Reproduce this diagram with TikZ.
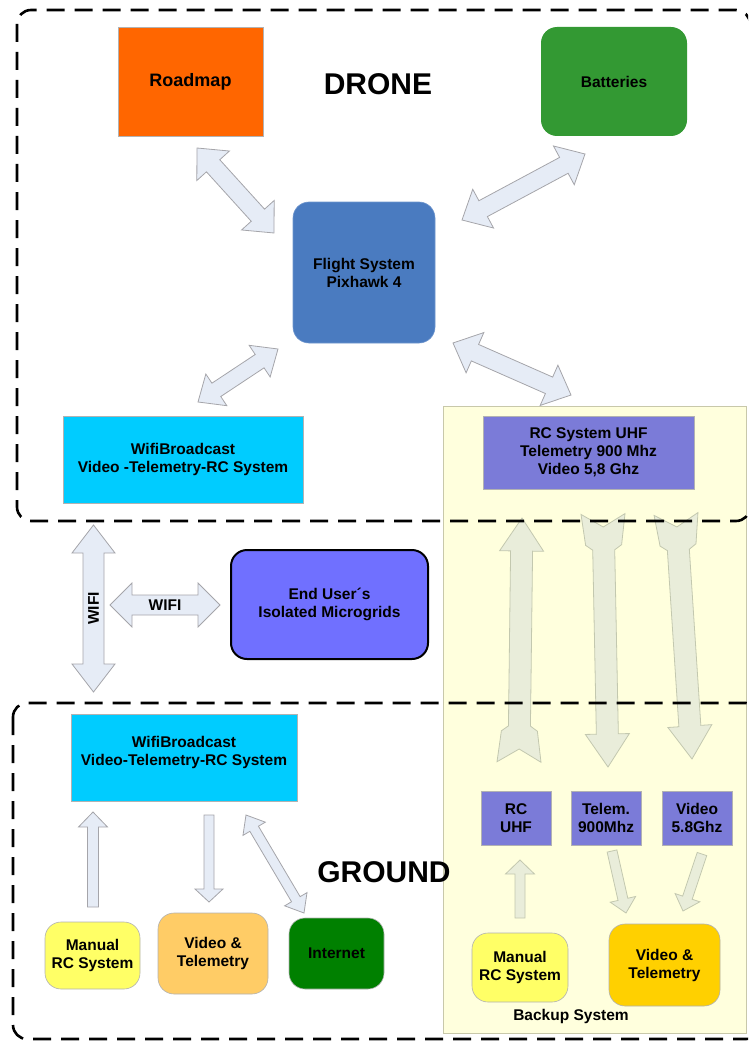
\documentclass[tikz,border=0pt]{standalone}
\usepackage{fontspec}
\setmainfont{Liberation Sans}
\usetikzlibrary{calc}
\definecolor{roadmapc}{RGB}{255,102,0}
\definecolor{battc}{RGB}{51,153,51}
\definecolor{flightc}{RGB}{74,123,192}
\definecolor{wific}{RGB}{0,204,255}
\definecolor{rcc}{RGB}{123,123,216}
\definecolor{enduserc}{RGB}{112,112,255}
\definecolor{manualc}{RGB}{255,255,102}
\definecolor{vidtelc}{RGB}{255,204,102}
\definecolor{internetc}{RGB}{0,128,0}
\definecolor{bvidtelc}{RGB}{255,208,0}
\definecolor{backbgc}{RGB}{255,255,221}
\definecolor{backbdc}{RGB}{200,200,170}
\definecolor{barrowfill}{RGB}{230,236,246}
\definecolor{barrowdraw}{RGB}{165,165,170}
\definecolor{garrowfill}{RGB}{233,237,218}
\definecolor{garrowdraw}{RGB}{195,200,175}
\tikzset{
  arrframe/.style={shift={(#1)},rotate=\n1},
  box/.style={draw=black!30, line width=0.6pt, align=center, inner sep=0pt,
    font=\bfseries\fontsize{15.5}{18}\selectfont},
  rbox/.style={box, rounded corners=16pt},
  barrow/.style={draw=barrowdraw, fill=barrowfill, line width=0.8pt},
  garrow/.style={draw=garrowdraw, fill=garrowfill, line width=0.8pt},
  zone/.style={draw=black, line width=2.6pt, dash pattern=on 18pt off 10pt, rounded corners=14pt},
  title/.style={font=\bfseries\fontsize{30}{34}\selectfont},
  lab/.style={font=\bfseries\fontsize{15.5}{18}\selectfont, inner sep=0pt},
}
% double block arrow: [style]{from}{to}{shaft half}{head half}{head length}
\newcommand\dblarr[6][barrow]{%
  \path[#1] let \p1=($(#3)-(#2)$), \n1={atan2(\y1,\x1)}, \n2={veclen(\x1,\y1)} in
    (#2) -- ([arrframe=#2]#6,#5) -- ([arrframe=#2]#6,#4) -- ([arrframe=#2]\n2-#6,#4)
    -- ([arrframe=#2]\n2-#6,#5) -- (#3) -- ([arrframe=#2]\n2-#6,-#5) -- ([arrframe=#2]\n2-#6,-#4)
    -- ([arrframe=#2]#6,-#4) -- ([arrframe=#2]#6,-#5) -- cycle;}
% single block arrow
\newcommand\sglarr[6][barrow]{%
  \path[#1] let \p1=($(#3)-(#2)$), \n1={atan2(\y1,\x1)}, \n2={veclen(\x1,\y1)} in
    ([arrframe=#2]0,#4) -- ([arrframe=#2]\n2-#6,#4) -- ([arrframe=#2]\n2-#6,#5) -- (#3)
    -- ([arrframe=#2]\n2-#6,-#5) -- ([arrframe=#2]\n2-#6,-#4) -- ([arrframe=#2]0,-#4) -- cycle;}
% swallow-tail block arrow
\newcommand\tailarr[3][garrow]{%
  \path[#1] let \p1=($(#3)-(#2)$), \n1={atan2(\y1,\x1)}, \n2={veclen(\x1,\y1)} in
    ([arrframe=#2]0,22) -- ([arrframe=#2]31,18) -- ([arrframe=#2]36,11) -- ([arrframe=#2]\n2-33,11)
    -- ([arrframe=#2]\n2-33,22) -- (#3) -- ([arrframe=#2]\n2-33,-22) -- ([arrframe=#2]\n2-33,-11)
    -- ([arrframe=#2]36,-11) -- ([arrframe=#2]31,-18) -- ([arrframe=#2]0,-22) -- ([arrframe=#2]13,0) -- cycle;}
\begin{document}
\begin{tikzpicture}[x=1pt,y=-1pt]
\useasboundingbox (0,0) rectangle (748,1043);
\clip (0,0) rectangle (748,1043);

% backup system background
\node[draw=backbdc, fill=backbgc, line width=0.8pt, minimum width=303pt, minimum height=627pt, inner sep=0pt] (backup) at (594.5,719.5) {};

% drone nodes
\node[box, fill=roadmapc, minimum width=145pt, minimum height=109pt, font=\bfseries\fontsize{18}{20}\selectfont] (roadmap) at (190.5,81.5) {Roadmap};
\node[rbox, draw=none, fill=battc, minimum width=146pt, minimum height=109pt] (batt) at (614,81.5) {Batteries};
\node[title] (drone) at (378,84) {DRONE};
\node[rbox, draw=flightc!80!white, fill=flightc, minimum width=142pt, minimum height=141pt] (flight) at (364,272.5) {Flight System\\Pixhawk 4};
\node[box, fill=wific, minimum width=240pt, minimum height=87pt] (wifid) at (183,459.5) {WifiBroadcast\\Video -Telemetry-RC System};
\node[box, fill=rcc, minimum width=211pt, minimum height=73pt] (rcd) at (588.5,452.5) {RC System UHF\\Telemetry 900 Mhz\\Video 5,8 Ghz};

% middle
\node[rbox, draw=black, line width=2pt, fill=enduserc, minimum width=197pt, minimum height=109pt] (enduser) at (329.5,604.5) {End User´s\\Isolated Microgrids};

% ground nodes
\node[box, fill=wific, minimum width=226pt, minimum height=87pt, text depth=14pt] (wifig) at (184,757.5) {WifiBroadcast\\Video-Telemetry-RC System};
\node[rbox, fill=manualc, minimum width=95pt, minimum height=67pt] (manualg) at (92.5,955.5) {Manual\\RC System};
\node[rbox, fill=vidtelc, minimum width=110pt, minimum height=81pt] (vidtelg) at (213,953.5) {Video \&\\Telemetry};
\node[rbox, fill=internetc, minimum width=95pt, minimum height=71pt] (internet) at (336.5,953.5) {Internet};
\node[title] (ground) at (384,872) {GROUND};

% backup nodes
\node[box, fill=rcc, minimum width=70pt, minimum height=54pt] (rcuhf) at (516,818) {RC\\UHF};
\node[box, fill=rcc, minimum width=70pt, minimum height=54pt] (telem) at (606,818) {Telem.\\900Mhz};
\node[box, fill=rcc, minimum width=70pt, minimum height=54pt] (video) at (697,818) {Video\\5.8Ghz};
\node[rbox, fill=manualc, minimum width=96pt, minimum height=69pt] (manualb) at (520,967.5) {Manual\\RC System};
\node[rbox, fill=bvidtelc, minimum width=111pt, minimum height=82pt] (vidtelb) at (664.5,965) {Video \&\\Telemetry};
\node[lab] (backlab) at (571,1016) {Backup System};

% arrow end points
\coordinate (rmA) at (197,148);   \coordinate (rmB) at (274,233);
\coordinate (btA) at (462,220);   \coordinate (btB) at (585,154);
\coordinate (wfA) at (198,402);   \coordinate (wfB) at (278,349);
\coordinate (rcA) at (453,343);   \coordinate (rcB) at (571,395);
\coordinate (wvA) at (93.5,692);  \coordinate (wvB) at (93.5,525);
\coordinate (whA) at (110,605);   \coordinate (whB) at (220,605);
\coordinate (guA) at (93,907);    \coordinate (guB) at (93,812);
\coordinate (gdA) at (209,815);   \coordinate (gdB) at (209,902);
\coordinate (giA) at (246,815);   \coordinate (giB) at (304,913);
\coordinate (bRA) at (519,762);   \coordinate (bRB) at (522,518);
\coordinate (bTA) at (603,514);   \coordinate (bTB) at (608,767);
\coordinate (bVA) at (676,514);   \coordinate (bVB) at (692,759);
\coordinate (suA) at (520,918);   \coordinate (suB) at (520,860);
\coordinate (stA) at (612,851);   \coordinate (stB) at (626,913);
\coordinate (svA) at (702,854);   \coordinate (svB) at (683,911);

% drone arrows
\dblarr{rmA}{rmB}{9}{22}{24}
\dblarr{btA}{btB}{9}{22}{24}
\dblarr{wfA}{wfB}{8}{19}{22}
\dblarr{rcA}{rcB}{9}{22}{24}
% wifi arrows
\dblarr{wvA}{wvB}{10.5}{21.5}{28}
\dblarr{whA}{whB}{10}{22}{22}
\node[lab, rotate=90] (wifiv) at ($(wvA)!0.5!(wvB)$) {WIFI};
\node[lab] (wifih) at ($(whA)!0.5!(whB)$) {WIFI};
% ground arrows
\sglarr{guA}{guB}{5.5}{14.5}{15}
\sglarr{gdA}{gdB}{5}{14}{13}
\dblarr{giA}{giB}{5}{13}{16}
% backup arrows
\tailarr{bRA}{bRB}
\tailarr{bTA}{bTB}
\tailarr{bVA}{bVB}
\sglarr[garrow]{suA}{suB}{5}{14.5}{14}
\sglarr[garrow]{stA}{stB}{5}{13}{14}
\sglarr[garrow]{svA}{svB}{5}{13}{14}

% zones
\draw[zone] (17,10) rectangle (750,521);
\draw[zone] (13,703) rectangle (760,1039);
\end{tikzpicture}
\end{document}
